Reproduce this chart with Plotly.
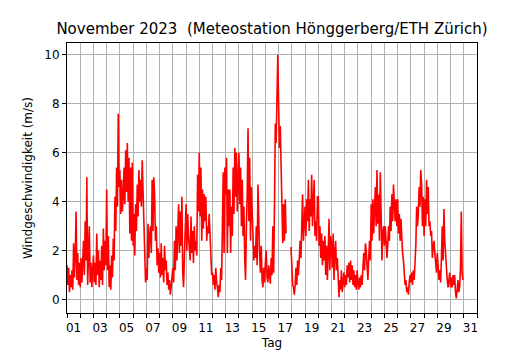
import plotly.graph_objects as go

# Wind speed (m/s), 16 readings per day (every 1.5 h), Nov 1 .. Nov 30
day01 = [1.4, 0.6, 1.3, 0.3, 1.0, 0.5, 1.2, 0.4, 2.3, 0.9, 1.8, 3.6, 0.8, 1.9, 0.6, 1.5]
day02 = [0.5, 1.7, 0.7, 1.4, 2.4, 1.0, 3.2, 1.6, 5.0, 0.6, 2.0, 3.0, 0.7, 1.5, 0.5, 1.2]
day03 = [1.8, 0.7, 1.5, 0.6, 2.7, 1.0, 2.0, 0.5, 1.6, 0.8, 2.2, 0.6, 2.9, 1.2, 2.4, 1.4]
day04 = [4.5, 1.2, 2.6, 0.5, 1.4, 0.4, 1.8, 0.9, 2.5, 1.6, 4.2, 2.8, 5.4, 3.8, 7.6, 4.6]
day05 = [5.3, 3.5, 4.9, 3.6, 4.2, 5.4, 3.9, 6.1, 4.4, 6.4, 4.0, 5.8, 2.7, 5.4, 2.4, 5.6]
day06 = [2.2, 3.5, 1.8, 3.9, 2.8, 4.7, 3.4, 5.3, 4.0, 4.9, 3.8, 5.7, 4.3, 3.2, 1.2, 0.7]
day07 = [1.3, 0.8, 3.1, 1.7, 2.6, 3.0, 1.9, 4.9, 2.8, 5.0, 4.3, 2.4, 3.0, 1.4, 2.1, 1.1]
day08 = [1.9, 0.9, 2.3, 1.0, 1.7, 0.7, 2.2, 1.2, 1.6, 0.6, 1.1, 0.4, 0.8, 0.2, 0.5, 0.9]
day09 = [1.3, 0.7, 2.4, 1.2, 3.0, 1.6, 2.4, 3.9, 1.9, 3.6, 2.2, 4.2, 1.1, 0.5, 1.7, 2.6]
day10 = [3.9, 2.0, 3.5, 2.6, 2.2, 1.6, 3.4, 1.9, 2.8, 1.5, 3.0, 2.0, 2.4, 1.8, 5.1, 3.6]
day11 = [6.0, 3.4, 5.4, 2.4, 4.5, 2.9, 4.3, 3.2, 4.2, 2.4, 3.0, 2.7, 3.5, 2.1, 1.9, 1.0]
day12 = [1.1, 0.6, 1.0, 0.4, 1.3, 0.7, 0.5, 0.1, 0.6, 0.3, 1.3, 0.8, 2.4, 5.2, 1.9, 5.4]
day13 = [4.3, 5.8, 1.9, 4.5, 3.0, 4.5, 1.9, 3.8, 2.6, 5.4, 3.5, 6.2, 4.2, 6.0, 3.6, 4.9]
day14 = [6.0, 3.9, 5.4, 3.0, 4.9, 2.6, 3.8, 1.7, 0.8, 3.0, 4.3, 7.0, 3.2, 5.8, 2.4, 4.6]
day15 = [3.8, 3.0, 1.6, 2.2, 1.7, 3.0, 1.4, 4.7, 2.4, 1.8, 1.1, 2.2, 0.8, 0.5, 1.3, 0.7]
day16 = [1.5, 2.0, 0.9, 0.7, 1.4, 1.1, 0.65, 1.7, 1.0, 3.0, 1.1, 3.8, 7.2, 6.4, 8.6, 10.0]
day17 = [8.0, 6.2, 7.1, 5.3, 4.6, 2.3, 3.9, 2.4, 4.1, 2.7, None, None, None, None, None, 2.15]
day18 = [1.1, 0.6, 0.5, 0.2, 0.6, 1.3, 0.6, 1.6, 1.0, 1.9, 2.4, 1.7, 3.0, 4.3, 2.4, 3.4]
day19 = [3.8, 2.6, 4.1, 3.2, 4.9, 2.8, 4.1, 3.4, 5.1, 3.0, 3.9, 4.9, 2.6, 3.2, 2.4, 4.2]
day20 = [4.2, 2.2, 3.0, 1.7, 2.7, 1.4, 2.4, 1.6, 2.6, 1.0, 2.2, 0.8, 1.9, 3.3, 1.2, 2.6]
day21 = [2.3, 1.3, 2.7, 0.8, 1.9, 2.4, 1.2, 1.7, 1.0, 0.1, 0.8, 0.4, 1.2, 0.3, 0.7, 1.1]
day22 = [0.5, 1.0, 0.6, 1.4, 0.9, 1.5, 0.7, 1.6, 0.8, 1.4, 0.6, 1.2, 0.5, 1.0, 0.4, 1.2]
day23 = [0.7, 0.4, 0.9, 0.5, 1.0, 0.6, 1.3, 1.9, 1.2, 2.3, 2.0, 1.1, 0.8, 1.7, 2.4, 1.6]
day24 = [3.9, 2.4, 4.1, 2.7, 3.8, 4.6, 3.0, 5.3, 3.1, 4.3, 2.4, 5.2, 3.5, 1.6, 2.7, 3.0]
day25 = [2.2, 3.0, 2.4, 1.7, 2.2, 3.0, 2.4, 3.8, 2.8, 4.3, 3.2, 4.7, 3.9, 3.2, 4.1, 3.0]
day26 = [4.1, 2.7, 3.5, 2.4, 3.3, 2.1, 1.9, 1.6, 1.1, 0.6, 0.8, 0.3, 0.5, 0.2, 0.7, 1.0]
day27 = [0.7, 1.1, 0.6, 1.2, 0.8, 1.6, 2.2, 3.8, 3.0, 3.5, 4.6, 3.8, 5.3, 4.7, 3.0, 4.2]
day28 = [2.6, 4.1, 3.0, 4.9, 3.5, 4.6, 3.0, 3.2, 2.6, 2.8, 1.7, 2.2, 2.4, 1.9, 1.6, 1.1]
day29 = [1.9, 1.3, 0.8, 1.2, 0.7, 1.7, 3.0, 1.6, 3.7, 2.4, 1.7, 1.3, 0.8, 0.5, 0.8, 1.1]
day30 = [0.5, 0.9, 0.5, 1.0, 0.6, 1.0, 0.3, 0.05, 0.4, 0.8, 0.3, 0.5, 1.3, 3.6, 1.1, 0.8]

days = [day01, day02, day03, day04, day05, day06, day07, day08, day09, day10,
        day11, day12, day13, day14, day15, day16, day17, day18, day19, day20,
        day21, day22, day23, day24, day25, day26, day27, day28, day29, day30]

tick_labels = ["01", "03", "05", "07", "09", "11", "13", "15",
               "17", "19", "21", "23", "25", "27", "29", "31"]
y_ticks = [0, 2, 4, 6, 8, 10]

# time axis: day of month as a number (1.0 = Nov 1, 00:00)
x, y = [], []
for d, vals in enumerate(days, start=1):
    n = len(vals)
    for k, v in enumerate(vals):
        x.append(d + k / n)
        y.append(v)

FONT = "DejaVu Sans"
GRID = "#b0b0b0"

fig = go.Figure()
fig.add_trace(go.Scatter(x=x, y=y, mode="lines",
                         line=dict(color="#ff0000", width=1.6),
                         connectgaps=False, showlegend=False))

label_pos = [int(t) + 0.5 for t in tick_labels]
fig.update_layout(
    width=530, height=350,
    margin=dict(l=67, r=53, t=43, b=37, autoexpand=False),
    paper_bgcolor="white", plot_bgcolor="white",
    font=dict(family=FONT, size=12, color="black"),
    title=dict(text="November 2023  (Meteostation Hönggerberg/ETH Zürich)",
               x=0.5, xref="paper", xanchor="center",
               y=1 - 29 / 350, yref="container", yanchor="middle",
               font=dict(family=FONT, size=15, color="black")),
    xaxis=dict(range=[1, 32], tickmode="array", tickvals=label_pos, ticktext=tick_labels,
               ticks="", showgrid=False, zeroline=False, automargin=False,
               ticklabelstandoff=4,
               showline=True, mirror=True, linecolor="black", linewidth=1,
               tickfont=dict(size=12),
               minor=dict(tickmode="array", tickvals=list(range(1, 33)),
                          ticks="outside", ticklen=4, tickcolor="black",
                          showgrid=True, gridcolor=GRID, gridwidth=1),
               title=dict(text="Tag", font=dict(size=12), standoff=7)),
    yaxis=dict(range=[-0.55, 10.49], tickmode="array", tickvals=y_ticks,
               ticks="outside", ticklen=4, tickcolor="black", automargin=False,
               showgrid=True, gridcolor=GRID, gridwidth=1, zeroline=False,
               showline=True, mirror=True, linecolor="black", linewidth=1,
               tickfont=dict(size=12),
               title=dict(text="Windgeschwindigkeit (m/s)", font=dict(size=12), standoff=9)),
)

fig.write_html("out.html", config={"displayModeBar": False},
               post_script="document.body.style.margin='0';document.body.style.padding='0';")
